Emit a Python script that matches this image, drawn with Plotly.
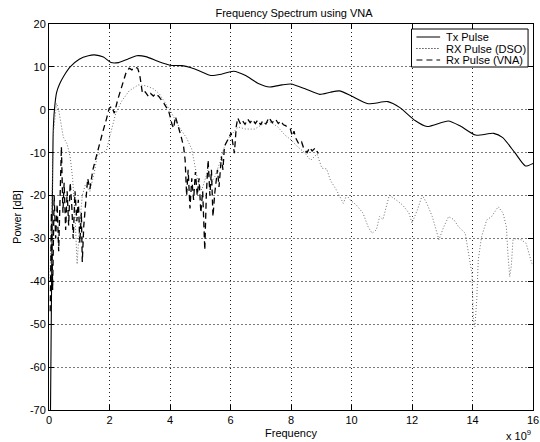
import plotly.graph_objects as go

# Tx Pulse (solid)
tx_f = [0.05, 0.08, 0.10, 0.12, 0.14, 0.18, 0.25, 0.35, 0.5, 0.7, 1.0, 1.3, 1.5, 1.8, 2.05, 2.3, 2.6,
        2.9, 3.2, 3.6, 4.0, 4.4, 4.7, 5.0, 5.35, 5.7, 6.1, 6.5, 6.9, 7.3, 7.7, 8.0, 8.5, 8.95, 9.3,
        9.6, 10.0, 10.55, 11.2, 11.6, 12.1, 12.5, 13.2, 13.6, 14.1, 14.7, 15.0, 15.4, 15.75, 16.0]
tx_p = [-70, -45, -30, -15, -5, 0, 4, 6, 8, 10, 11.8, 12.6, 12.8, 12.3, 11.0, 11.0, 11.8,
        12.6, 12.4, 11.3, 10.4, 10.3, 9.8, 9.0, 8.0, 8.3, 9.0, 8.0, 6.2, 5.3, 5.8, 6.0, 4.8, 3.6, 4.1,
        4.4, 3.2, 1.4, 1.9, 0.5, -2.5, -3.9, -2.6, -3.8, -5.9, -5.5, -6.5, -10.0, -13.1, -12.5]

# RX Pulse (DSO) (dotted)
dso_f = [0.03, 0.08, 0.15, 0.25, 0.32, 0.47, 0.6, 0.7, 0.78, 0.85, 0.93, 1.0, 1.1, 1.2, 1.35, 1.5,
         1.6, 1.75, 1.9, 2.0, 2.2, 2.4, 2.65, 2.95, 3.2, 3.45, 3.65, 3.85, 4.05, 4.3, 4.55, 4.72,
         4.83, 4.93, 5.05, 5.15, 5.26, 5.37, 5.48, 5.64, 5.8, 5.95, 6.1, 6.25, 6.5, 6.8, 7.1, 7.3,
         7.55, 7.8, 8.0, 8.2, 8.45, 8.65, 8.86, 9.02, 9.18, 9.3, 9.5, 9.73, 9.84, 9.95, 10.16,
         10.38, 10.55, 10.68, 10.82, 10.93, 11.04, 11.14, 11.25, 11.47, 11.69, 11.9, 12.0, 12.18,
         12.34, 12.5, 12.67, 12.89, 13.05, 13.21, 13.38, 13.54, 13.76, 13.87, 13.98, 14.03, 14.08,
         14.14, 14.19, 14.3, 14.47, 14.63, 14.85, 15.01, 15.12, 15.17, 15.23, 15.28, 15.34, 15.45,
         15.61, 15.77, 15.88, 15.96, 16.0]
dso_p = [-40, -25, -5, 1.5, 0, -6.3, -8, -11, -16, -23, -36, -28, -20, -17.5, -19, -14.5,
         -10.5, -10, -9.5, -6.5, -1, 2, 4.4, 5.8, 5.6, 4.9, 3.7, 1.5, -0.7, -4, -6.6, -9.2,
         -13, -17, -18.7, -16.4, -14, -17, -15.6, -12.5, -8.6, -6.5, -5.2, -4, -4.5, -4.5, -3.2, -2.8,
         -3.9, -5.9, -7, -8.5, -10, -11.8, -10.3, -13.6, -13.8, -16.4, -18.7, -21.8, -19.9, -21, -22.2,
         -24.1, -27.3, -28.8, -28, -24.9, -25.6, -22.6, -19.9, -21, -22.2, -24.1, -26.4, -23.3,
         -19.9, -22, -24.9, -30.3, -27.3, -24.9, -25.6, -27.3, -28.8, -33.5, -38.1, -49, -50.6,
         -44.3, -35, -29.6, -25.7, -24.9, -22.6, -24.1, -27.3, -33.5, -38.9, -36.6, -30.3, -30,
         -30.3, -31.1, -33.5, -35.8, -36]

# Rx Pulse (VNA) (dashed)
vna_f = [0.04, 0.08, 0.12, 0.17, 0.22, 0.27, 0.32, 0.41, 0.46, 0.5, 0.55, 0.6, 0.65, 0.7, 0.75,
         0.8, 0.86, 0.92, 0.97, 1.02, 1.07, 1.1, 1.15, 1.2, 1.28, 1.35, 1.45, 1.56, 1.67, 1.78,
         1.89, 1.99, 2.07, 2.16, 2.27, 2.44, 2.54, 2.65, 2.74, 2.82, 2.93, 3.0, 3.03, 3.09, 3.18,
         3.29, 3.36, 3.45, 3.53, 3.63, 3.8, 3.96, 4.07, 4.12, 4.18, 4.29, 4.37, 4.45, 4.5, 4.55,
         4.6, 4.66, 4.72, 4.78, 4.84, 4.9, 4.96, 5.02, 5.08, 5.15, 5.2, 5.26, 5.32, 5.37, 5.42,
         5.48, 5.57, 5.62, 5.7, 5.75, 5.8, 5.91, 6.02, 6.13, 6.19, 6.24, 6.33, 6.4, 6.48, 6.57,
         6.65, 6.73, 6.82, 6.9, 7.0, 7.06, 7.17, 7.27, 7.38, 7.49, 7.58, 7.66, 7.75, 7.82, 7.92,
         7.98, 8.04, 8.1, 8.15, 8.26, 8.35, 8.42, 8.53, 8.62, 8.7, 8.8, 8.9]
vna_p = [-47, -24, -42, -20, -30, -22, -33, -8.6, -24, -17, -28, -19, -27, -17, -22,
         -30, -19, -26, -21, -31, -24, -35.5, -27, -22, -16, -18.5, -14, -11, -7.8, -5.1,
         -2.4, 0.35, 0.8, -0.8, 2.3, 6.6, 8.5, 9.7, 9.3, 9.9, 9.7, 8.1, 6.2, 3.8, 4.2,
         3.1, 3.8, 3.2, 3.8, 3.1, 1.5, -0.4, -3.5, -4.3, -1.6, -4, -6.3, -8.6, -11.7, -20,
         -14, -23, -16, -21, -14.5, -20, -16, -24, -19, -32.7, -20, -11.7, -20, -14, -24.9,
         -19.4, -14, -18, -10.9, -14, -8.5, -7, -5.4, -10.1, -3.9, -1.9, -3.3, -2.6, -3.4, -2.2,
         -3, -2.3, -3.2, -2.4, -3.5, -2.6, -3.3, -1.8, -3, -2.2, -3.2, -2.6, -3.5, -3.7, -4.2,
         -4.5, -6.1, -5, -6.5, -8.0, -7.5, -9, -10, -8.8, -9.6, -8.9, -10.2]

series_names = ["Tx Pulse", "RX Pulse (DSO)", "Rx Pulse (VNA)"]
x_ticks = [0, 2, 4, 6, 8, 10, 12, 14, 16]
y_ticks = [20, 10, 0, -10, -20, -30, -40, -50, -60, -70]

FONT = "Liberation Sans, Arial, Helvetica, sans-serif"
W, H = 540, 442
L, R, T, B = 49, 1, 24, 32
PW, PH = W - L - R, H - T - B


def px(xp):
    return (xp - L) / PW


def py(yp):
    return (H - B - yp) / PH


line_styles = [
    dict(color="black", width=1.1),
    dict(color="#707070", width=1, dash="1px,2px"),
    dict(color="black", width=1.3, dash="6px,4px"),
]

fig = go.Figure()
fig.add_trace(go.Scatter(x=tx_f, y=tx_p, mode="lines", name=series_names[0],
                         line=dict(shape="spline", smoothing=0.6, **line_styles[0])))
fig.add_trace(go.Scatter(x=dso_f, y=dso_p, mode="lines", name=series_names[1], line=line_styles[1]))
fig.add_trace(go.Scatter(x=vna_f, y=vna_p, mode="lines", name=series_names[2], line=line_styles[2]))

axis_common = dict(
    showline=True, linecolor="black", linewidth=1, mirror="ticks",
    ticks="inside", ticklen=5, tickcolor="black", tickwidth=1,
    showgrid=True, gridwidth=1,
    zeroline=False, tickfont=dict(family=FONT, size=11, color="black"),
    ticklabeloverflow="allow",
)

fig.update_xaxes(range=[0, 16], tickvals=x_ticks, ticktext=[str(v) for v in x_ticks],
                 gridcolor="#222222", griddash="1px,3px",
                 title=dict(text="Frequency", font=dict(family=FONT, size=11, color="black"), standoff=4),
                 **axis_common)
fig.update_yaxes(range=[-70, 20], tickvals=y_ticks, ticktext=[str(v) for v in y_ticks],
                 gridcolor="#7a7a7a", griddash="2px,2px",
                 title=dict(text="Power [dB]", font=dict(family=FONT, size=11, color="black"), standoff=6),
                 **axis_common)

# legend drawn as a MATLAB-style compact box
shapes = [dict(type="rect", xref="paper", yref="paper", x0=px(416), x1=px(534), y0=py(67), y1=py(29),
               fillcolor="white", line=dict(color="black", width=1), layer="above")]
annotations = []
row_y = [37, 48.5, 60]
for name, st, ry in zip(series_names, line_styles, row_y):
    shapes.append(dict(type="line", xref="paper", yref="paper", x0=px(421), x1=px(445),
                       y0=py(ry), y1=py(ry), line=dict(color="black", width=1, dash=st.get("dash", "solid")),
                       layer="above"))
    annotations.append(dict(text=name, xref="paper", yref="paper", x=px(449), y=py(ry),
                            xanchor="left", yanchor="middle", showarrow=False,
                            font=dict(family=FONT, size=11, color="black")))

annotations.append(dict(text="x 10<sup>9</sup>", xref="paper", yref="paper", x=px(539), y=py(426),
                        xanchor="right", yanchor="top", showarrow=False,
                        font=dict(family=FONT, size=11, color="black")))

fig.update_layout(
    width=W, height=H,
    margin=dict(l=L, r=R, t=T, b=B),
    paper_bgcolor="white", plot_bgcolor="white",
    font=dict(family=FONT, size=11, color="black"),
    title=dict(text="Frequency Spectrum using VNA", x=(49 + 539) / 2 / W, xanchor="center",
               y=1 - 13 / H, yanchor="middle", font=dict(family=FONT, size=11, color="black")),
    showlegend=False,
    shapes=shapes,
    annotations=annotations,
)

fig.write_html("out.html")
